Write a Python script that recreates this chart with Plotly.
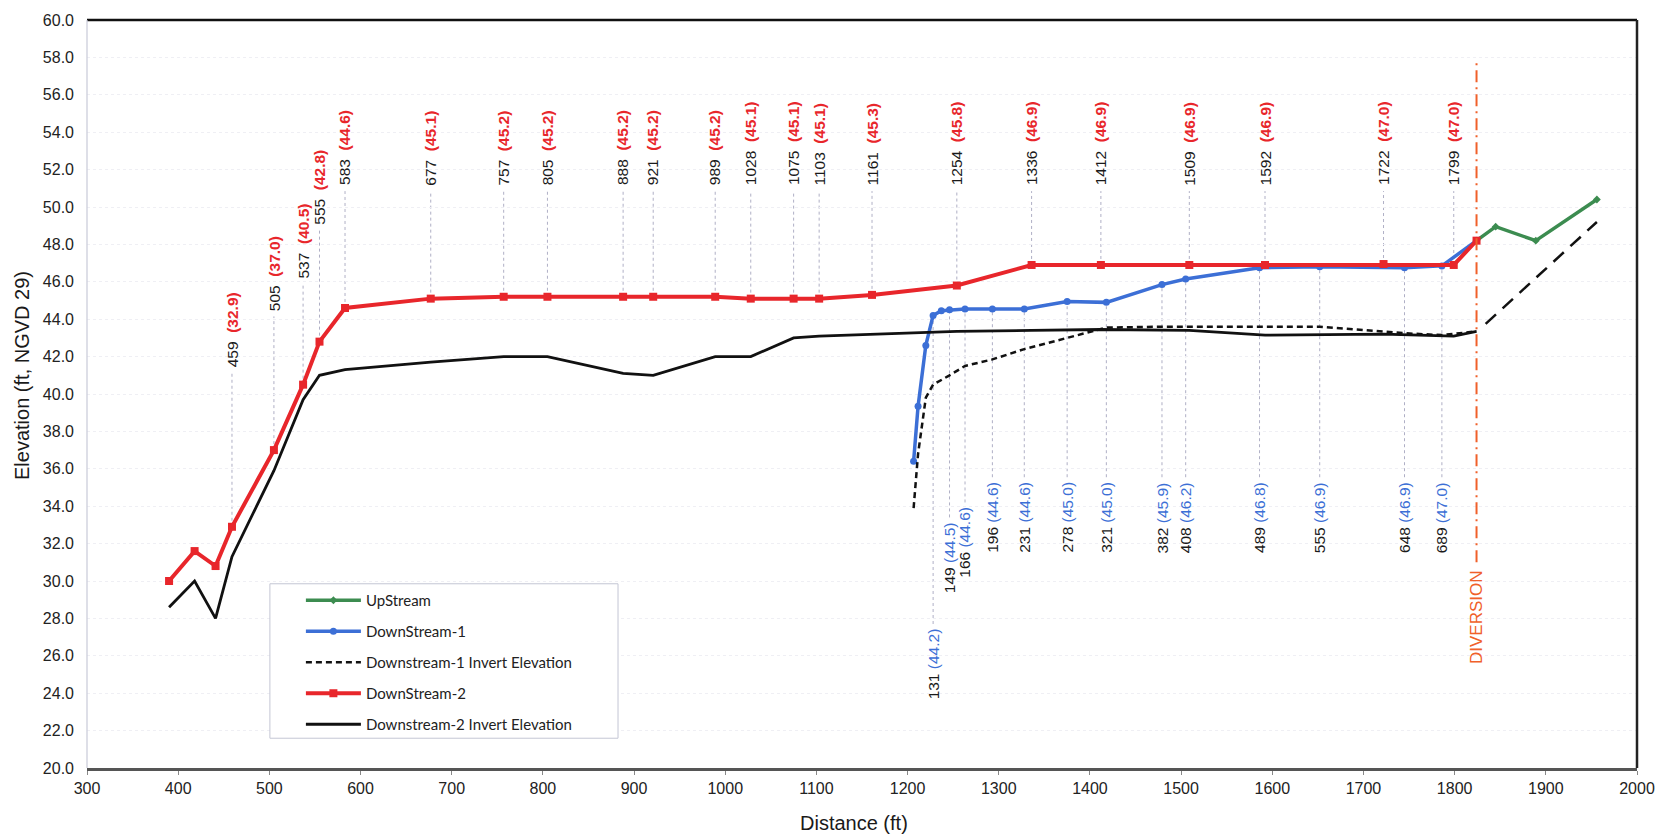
import plotly.graph_objects as go

# ---------------- data ----------------
# DownStream-2 water surface (red) and its invert (black solid)
ds2_x = [390, 418, 441, 459, 505, 537, 555, 583, 677, 757, 805, 888, 921, 989, 1028,
         1075, 1103, 1161, 1254, 1336, 1412, 1509, 1592, 1722, 1799, 1824]
ds2_y = [30.0, 31.6, 30.8, 32.9, 37.0, 40.5, 42.8, 44.6, 45.1, 45.2, 45.2, 45.2, 45.2, 45.2, 45.1,
         45.1, 45.1, 45.3, 45.8, 46.9, 46.9, 46.9, 46.9, 46.95, 46.9, 48.2]
ds2_inv_y = [28.6, 30.0, 28.0, 31.3, 35.9, 39.7, 41.0, 41.3, 41.7, 42.0, 42.0, 41.1, 41.0, 42.0, 42.0,
             43.0, 43.1, 43.2, 43.35, 43.4, 43.45, 43.4, 43.15, 43.2, 43.1, 43.35]

# DownStream-1 water surface (blue)
ds1_x = [1206.6, 1211.5, 1220, 1228, 1237, 1246, 1263, 1293, 1328, 1375, 1418, 1479, 1505,
         1586, 1652, 1745, 1786, 1824]
ds1_y = [36.4, 39.35, 42.6, 44.2, 44.45, 44.5, 44.55, 44.55, 44.55, 44.95, 44.9, 45.85, 46.15,
         46.75, 46.8, 46.75, 46.85, 48.2]

# Downstream-1 invert (black dashed)
ds1_inv_x = [1206.6, 1211.5, 1220, 1228, 1246, 1263, 1293, 1328, 1375, 1418, 1479, 1505,
             1586, 1652, 1745, 1786, 1824]
ds1_inv_y = [33.9, 36.8, 39.8, 40.5, 41.0, 41.5, 41.85, 42.4, 43.0, 43.55, 43.6, 43.6,
             43.6, 43.6, 43.25, 43.15, 43.35]

# UpStream (green) and upstream invert (long dash)
up_x = [1824, 1845, 1889, 1956]
up_y = [48.2, 48.95, 48.2, 50.4]
up_inv_x = [1834, 1956]
up_inv_y = [43.75, 49.2]

# Station labels, DownStream-2 (distance, elevation)
ds2_lbl_dist = [459, 505, 537, 555, 583, 677, 757, 805, 888, 921, 989, 1028, 1075, 1103,
                1161, 1254, 1336, 1412, 1509, 1592, 1722, 1799]
ds2_lbl_elev = [32.9, 37.0, 40.5, 42.8, 44.6, 45.1, 45.2, 45.2, 45.2, 45.2, 45.2, 45.1, 45.1, 45.1,
                45.3, 45.8, 46.9, 46.9, 46.9, 46.9, 47.0, 47.0]

# Station labels, DownStream-1 (distance along reach, elevation)
ds1_lbl_dist = [131, 149, 166, 196, 231, 278, 321, 382, 408, 489, 555, 648, 689]
ds1_lbl_elev = [44.2, 44.5, 44.6, 44.6, 44.6, 45.0, 45.0, 45.9, 46.2, 46.8, 46.9, 46.9, 47.0]
ds1_station_origin = 1097  # chart distance of DownStream-1 station 0

diversion_x = 1824

x_ticks = list(range(300, 2001, 100))
y_ticks = [20 + 2 * i for i in range(21)]

# ---------------- styles ----------------
RED = "#e8262b"
BLUE = "#3c6fd6"
GREEN = "#3c8c50"
BLACK = "#111111"
ORANGE = "#f0602a"
LEADER = "rgba(110,110,150,0.55)"
FONT = "Arial, Liberation Sans, sans-serif"
LBL_SIZE = 15.5

# label bottoms (elevation where rotated text starts) for red labels
ds2_lbl_base = {459: 41.4, 505: 44.4, 537: 46.1, 555: 49.0}
ds2_lbl_base_default = 51.1
# label tops for blue labels
ds1_lbl_top = {131: 27.5, 149: 33.2, 166: 34.0}
ds1_lbl_top_default = 35.35

fig = go.Figure()

fig.add_trace(go.Scatter(x=up_x, y=up_y, name="UpStream", mode="lines+markers",
                         line=dict(color=GREEN, width=3.5),
                         marker=dict(symbol="diamond", size=6, color=GREEN),
                         legendgroup="a"))
fig.add_trace(go.Scatter(x=ds1_x, y=ds1_y, name="DownStream-1", mode="lines+markers",
                         line=dict(color=BLUE, width=3.5),
                         marker=dict(symbol="circle", size=7, color=BLUE),
                         legendgroup="b"))
fig.add_trace(go.Scatter(x=ds1_inv_x, y=ds1_inv_y, name="Downstream-1 Invert Elevation",
                         mode="lines", line=dict(color=BLACK, width=2.5, dash="6px,4px"),
                         legendgroup="c"))
fig.add_trace(go.Scatter(x=ds2_x, y=ds2_y, name="DownStream-2", mode="lines+markers",
                         line=dict(color=RED, width=4),
                         marker=dict(symbol="square", size=8, color=RED),
                         legendgroup="d"))
fig.add_trace(go.Scatter(x=ds2_x, y=ds2_inv_y, name="Downstream-2 Invert Elevation",
                         mode="lines", line=dict(color=BLACK, width=2.8),
                         legendgroup="e"))
fig.add_trace(go.Scatter(x=up_inv_x, y=up_inv_y, name="UpStream Invert", mode="lines",
                         line=dict(color=BLACK, width=2.5, dash="14px,9px"),
                         showlegend=False))

shapes = []
annotations = []

# red station labels + leaders
for d, e in zip(ds2_lbl_dist, ds2_lbl_elev):
    i = ds2_x.index(d)
    base = ds2_lbl_base.get(d, ds2_lbl_base_default)
    shapes.append(dict(type="line", xref="x", yref="y", x0=d, x1=d, y0=ds2_y[i], y1=base - 0.25,
                       line=dict(color=LEADER, width=1, dash="dot"), layer="below"))
    annotations.append(dict(
        x=d, y=base, xref="x", yref="y", textangle=-90, showarrow=False,
        xanchor="center", yanchor="bottom", borderpad=0,
        text=f"{d}  <b><span style='color:{RED}'>({e:.1f})</span></b>",
        font=dict(family=FONT, size=LBL_SIZE, color="#1a1a1a")))

# blue station labels + leaders
for d, e in zip(ds1_lbl_dist, ds1_lbl_elev):
    xc = d + ds1_station_origin
    j = min(range(len(ds1_x)), key=lambda k: abs(ds1_x[k] - xc))
    top = ds1_lbl_top.get(d, ds1_lbl_top_default)
    shapes.append(dict(type="line", xref="x", yref="y", x0=xc, x1=xc, y0=top + 0.2, y1=ds1_y[j],
                       line=dict(color=LEADER, width=1, dash="dot"), layer="below"))
    annotations.append(dict(
        x=xc, y=top, xref="x", yref="y", textangle=-90, showarrow=False,
        xanchor="center", yanchor="top", borderpad=0,
        text=f"{d} <span style='color:{BLUE}'>({e:.1f})</span>",
        font=dict(family=FONT, size=LBL_SIZE, color="#1a1a1a")))

# diversion line + label
shapes.append(dict(type="line", xref="x", yref="y", x0=diversion_x, x1=diversion_x, y0=31.0, y1=57.9,
                   line=dict(color=ORANGE, width=2, dash="12px,5px,2px,5px")))
annotations.append(dict(x=diversion_x, y=28.05, xref="x", yref="y", textangle=-90, showarrow=False,
                        xanchor="center", yanchor="middle", text="DIVERSION",
                        font=dict(family=FONT, size=17, color=ORANGE)))

# frame
shapes.append(dict(type="line", xref="paper", yref="paper", x0=0, x1=1, y0=1, y1=1,
                   line=dict(color="#111", width=2.5)))
shapes.append(dict(type="line", xref="paper", yref="paper", x0=1, x1=1, y0=0, y1=1,
                   line=dict(color="#222", width=2.5)))
shapes.append(dict(type="line", xref="paper", yref="paper", x0=0, x1=0, y0=0, y1=1,
                   line=dict(color="#c8cad8", width=1.2)))
# legend box
shapes.append(dict(type="rect", xref="paper", yref="paper", x0=0.118, x1=0.3426, y0=0.0398, y1=0.2463,
                   fillcolor="white", line=dict(color="#c4c6d4", width=1), layer="above"))

# axis titles
annotations.append(dict(x=-0.0415, y=0.525, xref="paper", yref="paper", textangle=-90,
                        showarrow=False, xanchor="center", yanchor="middle",
                        text="Elevation (ft, NGVD 29)",
                        font=dict(family=FONT, size=20, color="#1a1a1a")))
annotations.append(dict(x=0.495, y=-0.074, xref="paper", yref="paper",
                        showarrow=False, xanchor="center", yanchor="middle",
                        text="Distance (ft)",
                        font=dict(family=FONT, size=20, color="#1a1a1a")))

fig.update_layout(
    width=1667, height=839,
    margin=dict(l=87, r=21, t=15, b=71),
    paper_bgcolor="white", plot_bgcolor="white",
    shapes=shapes, annotations=annotations,
    showlegend=True,
    legend=dict(x=0.138, y=0.246, xanchor="left", yanchor="top",
                bgcolor="rgba(0,0,0,0)", borderwidth=0,
                font=dict(family="Lato, Open Sans, sans-serif", size=15, color="#222"),
                itemwidth=55, tracegroupgap=8.5, traceorder="grouped"),
    xaxis=dict(range=[300, 2000], tickvals=x_ticks, ticktext=[str(v) for v in x_ticks],
               showgrid=False, zeroline=False, showline=True, linecolor="#555", linewidth=3,
               ticks="outside", ticklen=4, tickcolor="#888",
               tickfont=dict(family=FONT, size=16, color="#222")),
    yaxis=dict(range=[20, 60], tickvals=y_ticks, ticktext=[f"{v:.1f}" for v in y_ticks],
               showgrid=True, gridcolor="#efeff4", griddash="dot", gridwidth=1,
               zeroline=False, showline=False, ticks="", ticklabelstandoff=12,
               tickfont=dict(family=FONT, size=16, color="#222")),
)

fig.write_html("out.html", config={"displayModeBar": False},
               post_script="document.body.style.margin='0';")
